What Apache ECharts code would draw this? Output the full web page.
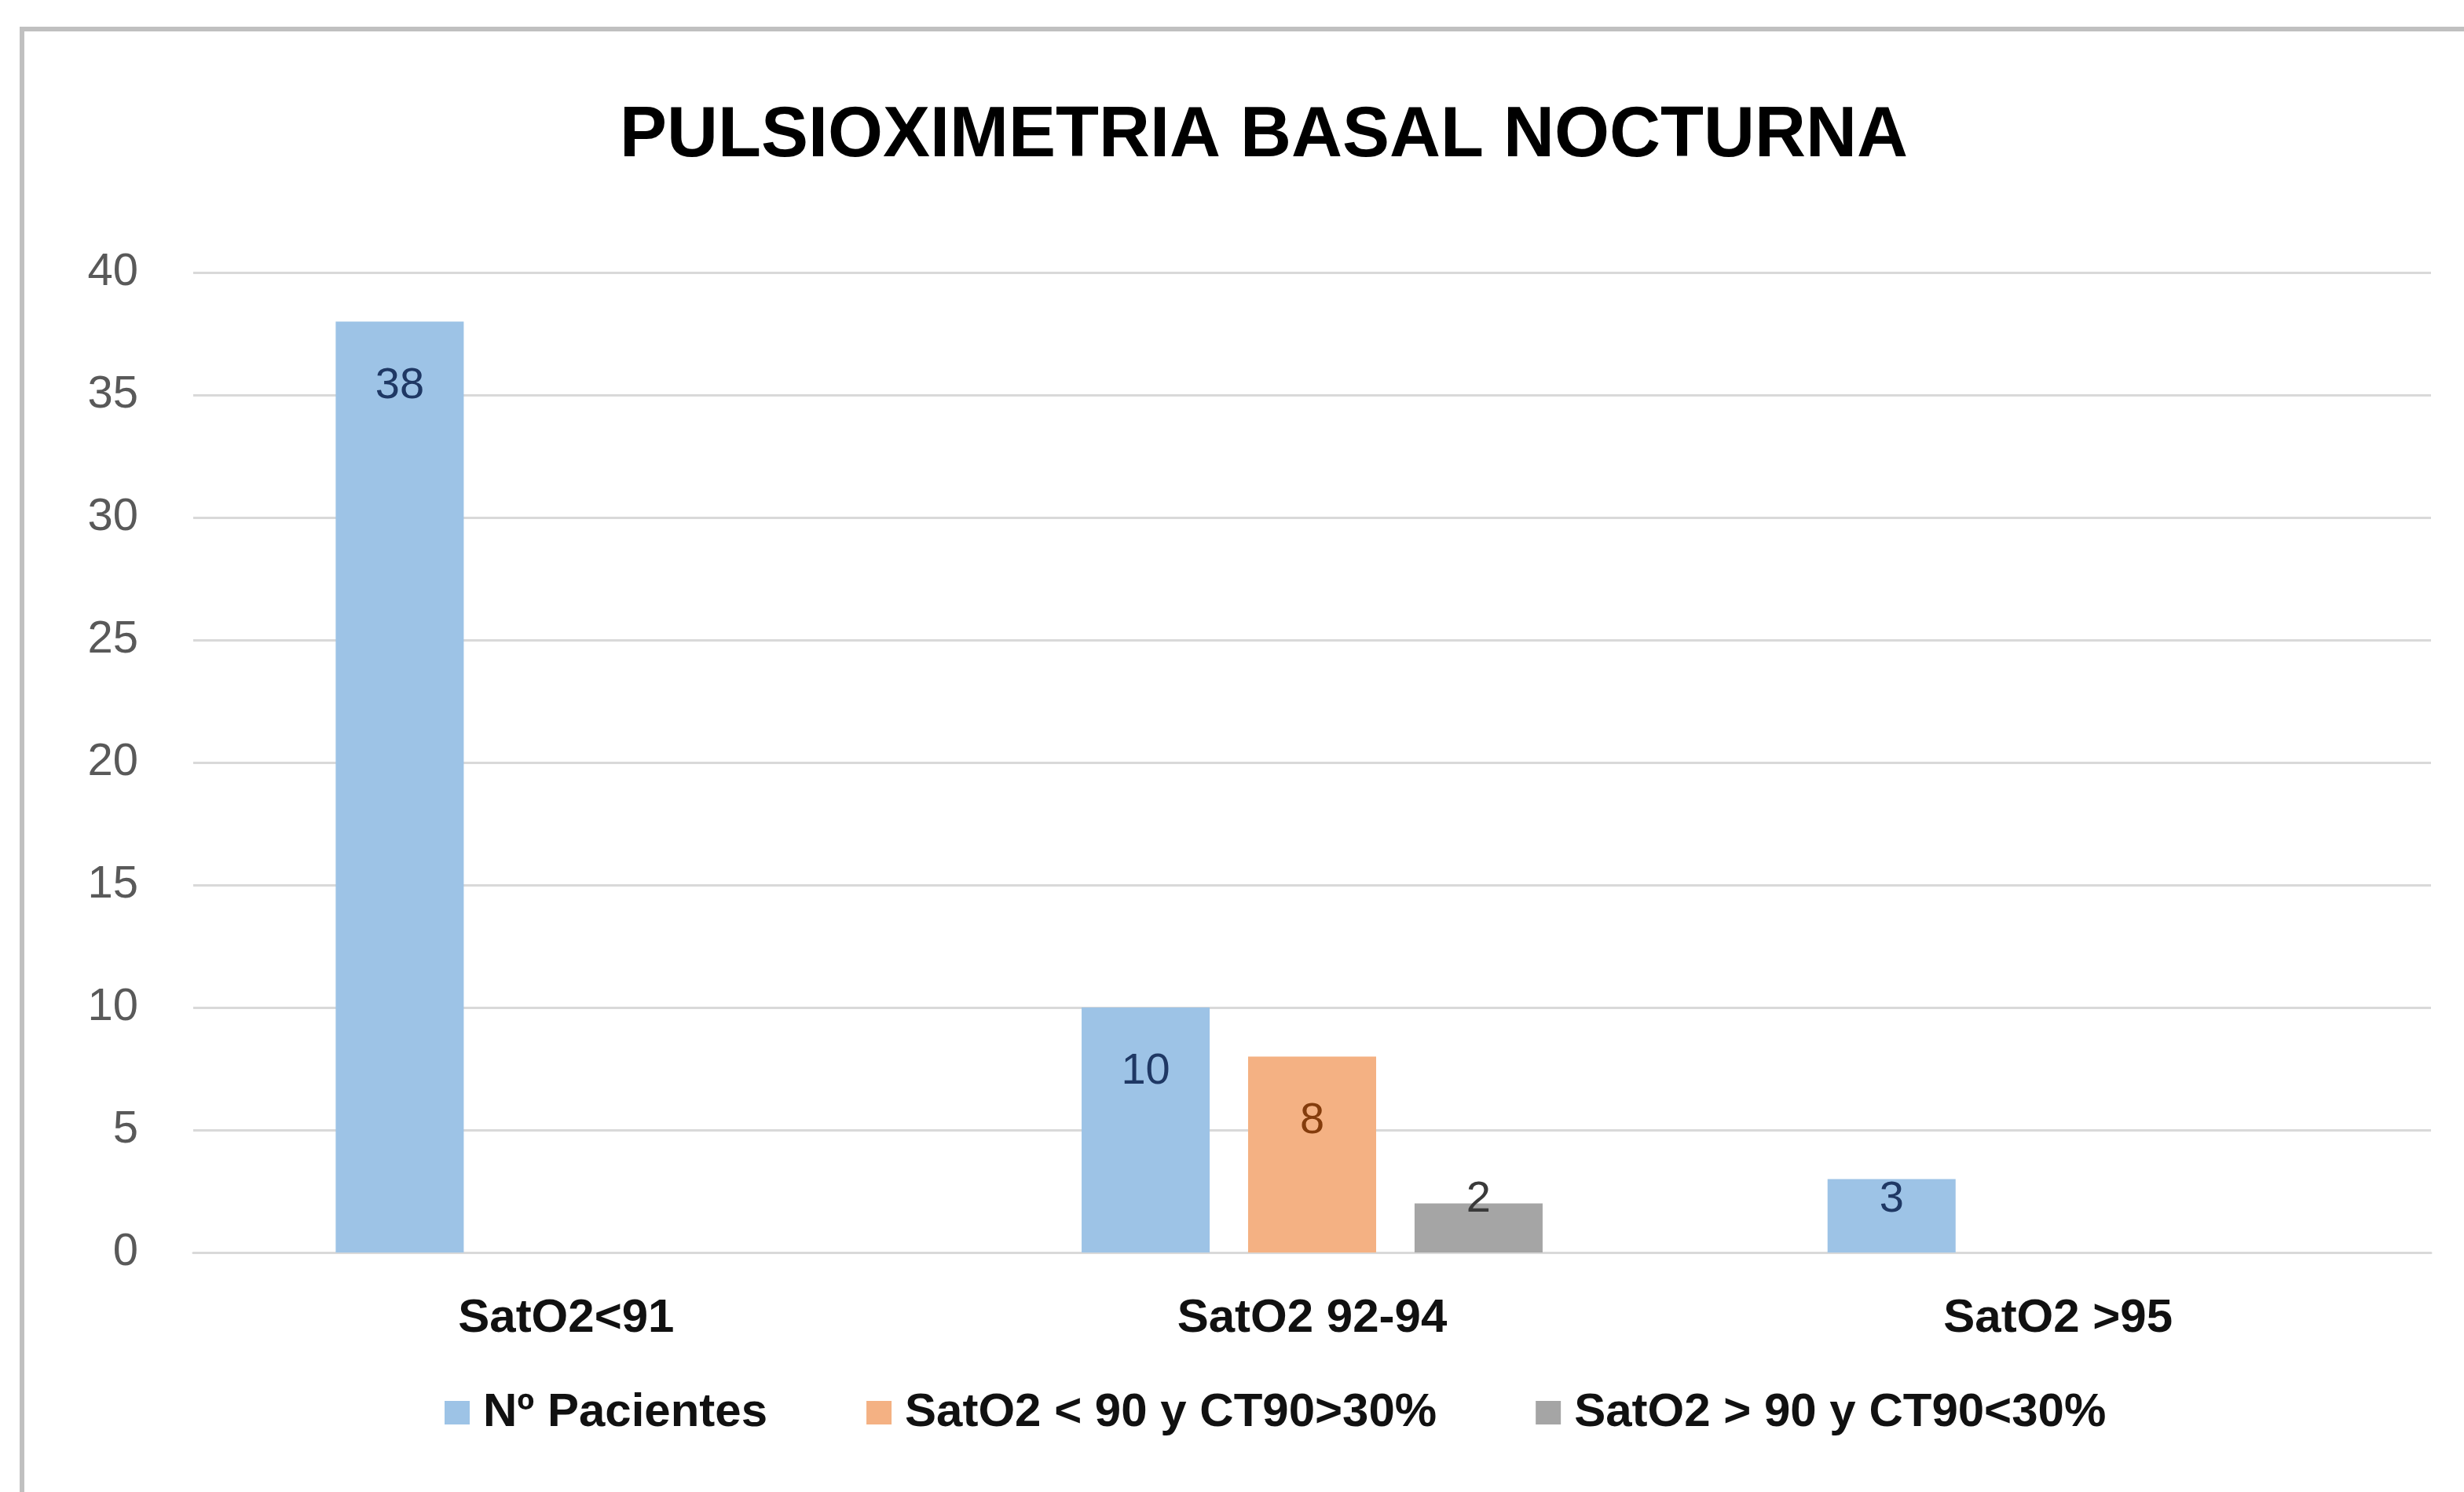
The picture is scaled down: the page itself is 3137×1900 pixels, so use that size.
<!DOCTYPE html>
<html>
<head>
<meta charset="utf-8">
<script src="https://cdn.jsdelivr.net/npm/echarts@6/dist/echarts.min.js"></script>
<style>
  html, body { margin: 0; padding: 0; background: #fff; }
  #chart { width: 3137px; height: 1900px; }
</style>
</head>
<body>
<div id="chart"></div>
<script>
// datos
const categories = ['SatO2<91', 'SatO2 92-94', 'SatO2 >95'];
const seriesNames = ['Nº Pacientes', 'SatO2 < 90 y CT90>30%', 'SatO2 > 90 y CT90<30%'];
const pacientes = [38, 10, 3];
const satBaja = ['-', 8, '-'];
const satAlta = ['-', 2, '-'];
const yTicks = [0, 5, 10, 15, 20, 25, 30, 35, 40];

const colors = ['#9DC3E6', '#F4B183', '#A5A5A5'];
const labelColors = ['#1F3864', '#843C0C', '#3A3A3A'];
const font = 'Liberation Sans, Arial, sans-serif';

const chart = echarts.init(document.getElementById('chart'));

// etiqueta dentro del extremo; en barras bajas se apoya desde abajo
function toData(values) {
  return values.map(v => {
    if (v === '-') return v;
    if (v < 5) {
      return {value: v, label: {position: 'insideBottom', distance: 39}};
    }
    return v;
  });
}

function makeSeries(name, values, idx) {
  return {
    name: name,
    type: 'bar',
    barGap: '30%',
    barCategoryGap: '38.2%',
    itemStyle: {color: colors[idx]},
    label: {
      show: true,
      position: 'insideTop',
      distance: 54,
      color: labelColors[idx],
      fontSize: 56,
      fontFamily: font
    },
    data: toData(values)
  };
}

const option = {
  backgroundColor: '#fff',
  animation: false,
  title: {
    text: 'PULSIOXIMETRIA BASAL NOCTURNA',
    left: 784,
    top: 124,
    textStyle: {
      fontSize: 90,
      fontWeight: 'bold',
      color: '#000',
      fontFamily: font
    }
  },
  graphic: [{
    type: 'rect',
    shape: {x: 28, y: 37, width: 3400, height: 2100},
    style: {fill: 'none', stroke: '#C0C0C0', lineWidth: 6},
    silent: true
  }],
  legend: {
    left: 561,
    top: 1764,
    icon: 'rect',
    itemWidth: 32,
    itemHeight: 30,
    itemGap: 126,
    textStyle: {
      fontSize: 60,
      fontWeight: 'bold',
      color: '#111',
      fontFamily: font,
      padding: [0, 0, 0, 12]
    },
    data: seriesNames
  },
  grid: {
    left: 246,
    right: 42,
    top: 347,
    bottom: 305,
    containLabel: false
  },
  xAxis: {
    type: 'category',
    data: categories,
    axisLine: {lineStyle: {color: '#D9D9D9', width: 3}},
    axisTick: {show: false},
    axisLabel: {
      margin: 54,
      fontSize: 60,
      fontWeight: 'bold',
      color: '#111',
      fontFamily: font
    }
  },
  yAxis: {
    type: 'value',
    min: yTicks[0],
    max: yTicks[yTicks.length - 1],
    interval: yTicks[1] - yTicks[0],
    axisLine: {show: false},
    axisTick: {show: false},
    splitLine: {lineStyle: {color: '#D9D9D9', width: 3}},
    axisLabel: {
      margin: 70,
      fontSize: 58,
      color: '#595959',
      fontFamily: font,
      padding: [6, 0, 0, 0]
    }
  },
  series: [
    makeSeries(seriesNames[0], pacientes, 0),
    makeSeries(seriesNames[1], satBaja, 1),
    makeSeries(seriesNames[2], satAlta, 2)
  ]
};

chart.setOption(option);
</script>
</body>
</html>
